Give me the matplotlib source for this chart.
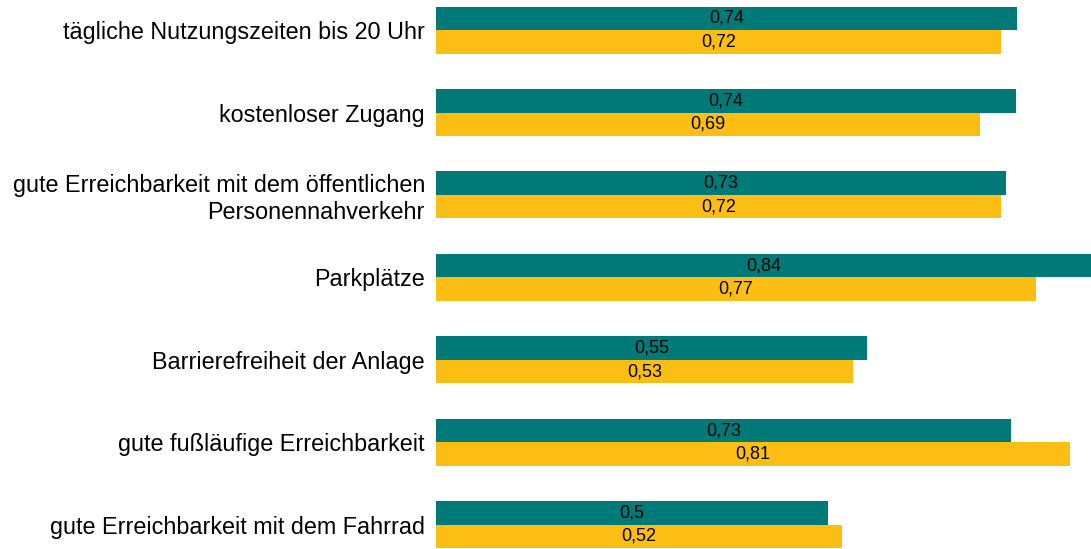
import matplotlib
matplotlib.use("Agg")
import matplotlib.pyplot as plt
import numpy as np

plt.rcParams['font.family'] = ['Liberation Sans', 'DejaVu Sans']

categories = ['tägliche Nutzungszeiten bis 20 Uhr',
              'kostenloser Zugang',
              'gute Erreichbarkeit mit dem öffentlichen\nPersonennahverkehr',
              'Parkplätze',
              'Barrierefreiheit der Anlage',
              'gute fußläufige Erreichbarkeit',
              'gute Erreichbarkeit mit dem Fahrrad']
teal_vals = [0.745, 0.744, 0.731, 0.84, 0.553, 0.737, 0.503]
yellow_vals = [0.724, 0.698, 0.724, 0.769, 0.535, 0.813, 0.521]
teal_labels = ['0,74', '0,74', '0,73', '0,84', '0,55', '0,73', '0,5']
yellow_labels = ['0,72', '0,69', '0,72', '0,77', '0,53', '0,81', '0,52']

teal = '#007A78'
yellow = '#FCBE12'

fig = plt.figure(figsize=(10.91, 5.49), dpi=100)
ax = fig.add_axes([436 / 1091, 0, 1 - 436 / 1091, 1])

y = np.arange(len(categories))
h = 0.285
ax.barh(y - h / 2, teal_vals, height=h, color=teal)
ax.barh(y + h / 2, yellow_vals, height=h, color=yellow)

for yi, v, lab in zip(y, teal_vals, teal_labels):
    ax.text(v / 2, yi - h / 2, lab, ha='center', va='center', fontsize=13)
for yi, v, lab in zip(y, yellow_vals, yellow_labels):
    ax.text(v / 2, yi + h / 2, lab, ha='center', va='center', fontsize=13)

ax.set_xlim(0, max(teal_vals))
ax.set_ylim(len(categories) - 1 + 0.295, -0.365)
ax.set_yticks(y)
ax.set_yticklabels(categories, fontsize=16.8, linespacing=1.2)
ax.tick_params(axis='y', length=0, pad=8)
ax.set_xticks([])
for s in ax.spines.values():
    s.set_visible(False)

fig.savefig('out.png', dpi=100)
